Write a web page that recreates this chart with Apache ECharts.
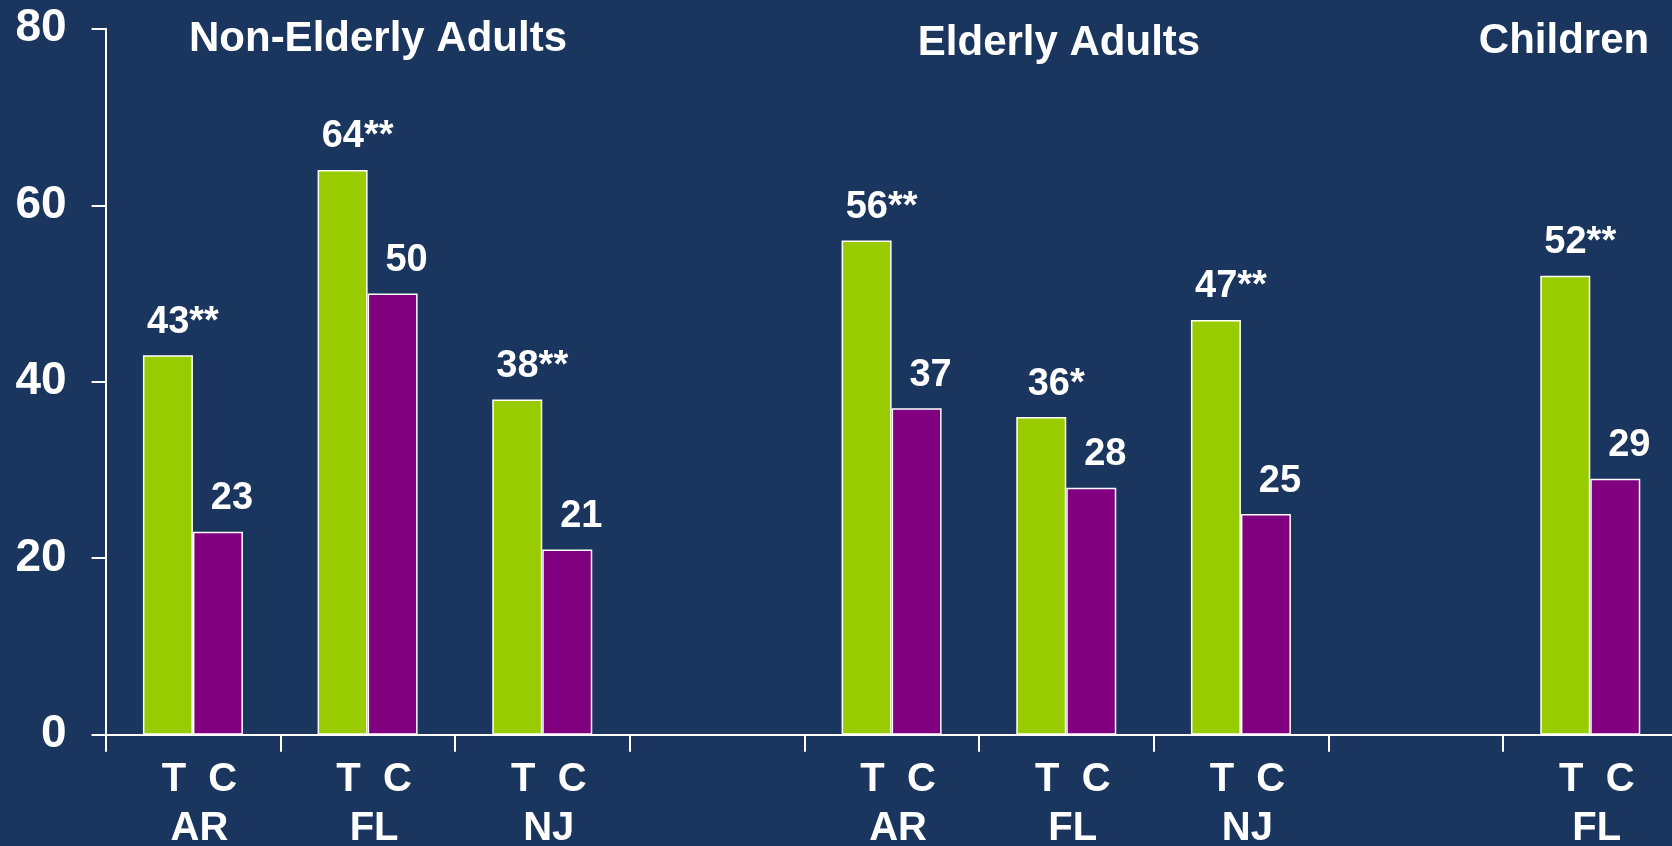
<!DOCTYPE html>
<html>
<head>
<meta charset="utf-8">
<script src="https://cdn.jsdelivr.net/npm/echarts@6/dist/echarts.min.js"></script>
<style>
  html, body { margin: 0; padding: 0; background: #1a365e; }
  #chart { width: 1672px; height: 846px; }
</style>
</head>
<body>
<div id="chart"></div>
<script>
// categories (empty slots separate the groups)
var states = ['AR', 'FL', 'NJ', '', 'AR', 'FL', 'NJ', '', 'FL'];
var treatment = [43, 64, 38, '-', 56, 36, 47, '-', 52];
var comparison = [23, 50, 21, '-', 37, 28, 25, '-', 29];
var treatmentLabels = ['43**', '64**', '38**', '', '56**', '36*', '47**', '', '52**'];
var comparisonLabels = ['23', '50', '21', '', '37', '28', '25', '', '29'];
var groupTitles = ['Non-Elderly Adults', 'Elderly Adults', 'Children'];
var yTicks = [0, 20, 40, 60, 80];

var font = '"Liberation Sans", Arial, sans-serif';

var myChart = echarts.init(document.getElementById('chart'));

var option = {
    backgroundColor: '#1a365e',
    animation: false,
    title: [
        { text: groupTitles[0], left: 378, top: 18 },
        { text: groupTitles[1], left: 1059, top: 22 },
        { text: groupTitles[2], left: 1564, top: 20 }
    ].map(function (t) {
        t.textAlign = 'center';
        t.textStyle = { color: '#fff', fontFamily: font, fontWeight: 'bold', fontSize: 42 };
        t.padding = 0;
        return t;
    }),
    grid: {
        left: 105.6, top: 28.8, width: 1572, bottom: 111.3,
        containLabel: false, outerBoundsMode: 'none'
    },
    xAxis: {
        type: 'category',
        data: states,
        axisLine: { lineStyle: { color: '#fff', width: 2 } },
        axisTick: { show: true, length: 17, lineStyle: { color: '#fff', width: 2 } },
        axisLabel: {
            interval: 0,
            margin: 21,
            color: '#fff',
            fontFamily: font,
            fontWeight: 'bold',
            fontSize: 40,
            lineHeight: 49,
            padding: [0, 0, 0, 13],
            formatter: function (v) { return v ? 'T  C\n' + v : ''; }
        }
    },
    yAxis: {
        type: 'value',
        min: 0,
        max: 80,
        interval: 20,
        axisLine: { show: true, lineStyle: { color: '#fff', width: 2 } },
        axisTick: { show: true, length: 14, lineStyle: { color: '#fff', width: 2 } },
        splitLine: { show: false },
        axisLabel: {
            margin: 39,
            color: '#fff',
            fontFamily: font,
            fontWeight: 'bold',
            fontSize: 46,
            formatter: function (v) { return yTicks.indexOf(v) >= 0 ? String(v) : ''; }
        }
    },
    series: [
        {
            name: 'T',
            type: 'bar',
            data: treatment,
            barWidth: 50,
            barGap: '0%',
            itemStyle: { color: '#99cc00', borderColor: '#fff', borderWidth: 1.5 },
            label: {
                show: true,
                position: 'top',
                distance: 14,
                offset: [15, 0],
                color: '#fff',
                fontFamily: font,
                fontWeight: 'bold',
                fontSize: 38,
                formatter: function (p) { return treatmentLabels[p.dataIndex]; }
            }
        },
        {
            name: 'C',
            type: 'bar',
            data: comparison,
            barWidth: 50,
            itemStyle: { color: '#800080', borderColor: '#fff', borderWidth: 1.5 },
            label: {
                show: true,
                position: 'top',
                distance: 14,
                offset: [14, 0],
                color: '#fff',
                fontFamily: font,
                fontWeight: 'bold',
                fontSize: 38,
                formatter: function (p) { return comparisonLabels[p.dataIndex]; }
            }
        }
    ]
};

myChart.setOption(option);
</script>
</body>
</html>
